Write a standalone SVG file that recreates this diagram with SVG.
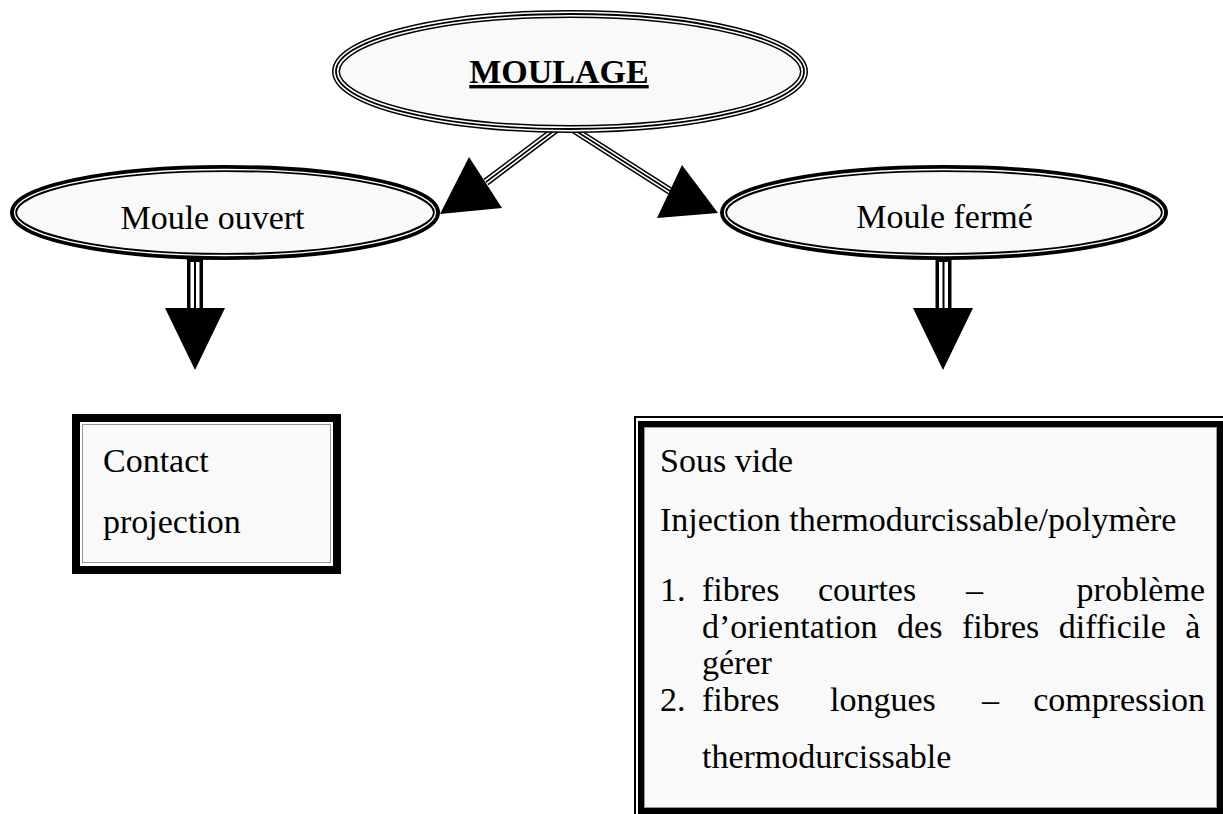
<svg xmlns="http://www.w3.org/2000/svg" width="1223" height="814" viewBox="0 0 1223 814">
<style>
text{font-family:'Liberation Serif','DejaVu Serif','Times New Roman',serif;font-size:34px;fill:#000}
.b{font-weight:bold}
.fill{fill:#f9f9f9}
.k{fill:none;stroke:#000}
.w{fill:none;stroke:#fff}
</style>
<rect x="0" y="0" width="1223" height="814" fill="#fff"/>
<g id="connectors">
  <g id="c-left">
    <line x1="563" y1="124" x2="486" y2="182" stroke="#000" stroke-width="8"/>
    <line x1="563" y1="124" x2="486" y2="182" stroke="#fff" stroke-width="5"/>
    <line x1="563" y1="124" x2="486" y2="182" stroke="#000" stroke-width="1.6"/>
    <polygon points="469,157 502,208 440,214" fill="#000"/>
  </g>
  <g id="c-right">
    <line x1="565" y1="124" x2="670" y2="191" stroke="#000" stroke-width="8"/>
    <line x1="565" y1="124" x2="670" y2="191" stroke="#fff" stroke-width="5"/>
    <line x1="565" y1="124" x2="670" y2="191" stroke="#000" stroke-width="1.6"/>
    <polygon points="682,165 657,218 718,213" fill="#000"/>
  </g>
  <g id="c-down-left">
    <line x1="195" y1="258" x2="195" y2="309" stroke="#000" stroke-width="16"/>
    <line x1="195" y1="262" x2="195" y2="309" stroke="#fff" stroke-width="9"/>
    <line x1="195" y1="262" x2="195" y2="309" stroke="#000" stroke-width="2"/>
    <polygon points="165,308 225,308 195,370" fill="#000"/>
  </g>
  <g id="c-down-right">
    <line x1="943.5" y1="258" x2="943.5" y2="309" stroke="#000" stroke-width="16"/>
    <line x1="943.5" y1="262" x2="943.5" y2="309" stroke="#fff" stroke-width="9"/>
    <line x1="943.5" y1="262" x2="943.5" y2="309" stroke="#000" stroke-width="2"/>
    <polygon points="913,308 973,308 943,370" fill="#000"/>
  </g>
</g>
<g id="moulage">
  <ellipse cx="570" cy="71.5" rx="234" ry="57.5" class="fill"/>
  <ellipse cx="570" cy="71.5" rx="234" ry="57.5" class="k" stroke-width="8"/>
  <ellipse cx="570" cy="71.5" rx="234" ry="57.5" class="w" stroke-width="5"/>
  <ellipse cx="570" cy="71.5" rx="234" ry="57.5" class="k" stroke-width="1.8"/>
  <text x="559" y="83" text-anchor="middle" class="b" text-decoration="underline">MOULAGE</text>
</g>
<g id="moule-ouvert">
  <ellipse cx="225" cy="212.5" rx="211.5" ry="44" class="fill"/>
  <ellipse cx="225" cy="212.5" rx="211.5" ry="44" class="k" stroke-width="7"/>
  <ellipse cx="225" cy="212.5" rx="210.5" ry="43" class="w" stroke-width="1.3"/>
  <text x="212.5" y="229" text-anchor="middle">Moule ouvert</text>
</g>
<g id="moule-ferme">
  <ellipse cx="944" cy="212.5" rx="220.5" ry="44" class="fill"/>
  <ellipse cx="944" cy="212.5" rx="220.5" ry="44" class="k" stroke-width="7"/>
  <ellipse cx="944" cy="212.5" rx="219.5" ry="43" class="w" stroke-width="1.3"/>
  <text x="944.5" y="228" text-anchor="middle">Moule fermé</text>
</g>
<g id="box-contact">
  <rect x="76" y="418" width="261" height="152" fill="#fff" stroke="#000" stroke-width="8"/>
  <rect x="82.5" y="424.5" width="248" height="138" class="fill" stroke="#999" stroke-width="1"/>
  <text x="103" y="472">Contact</text>
  <text x="103" y="533">projection</text>
</g>
<g id="box-ferme">
  <rect x="635" y="417" width="600" height="420" fill="#fff" stroke="#000" stroke-width="2"/>
  <rect x="641" y="424" width="579" height="387" fill="#fff" stroke="#000" stroke-width="6"/>
  <rect x="644.5" y="427.5" width="572" height="380" class="fill" stroke="#999" stroke-width="1"/>
  <text x="660" y="472">Sous vide</text>
  <text x="660" y="531">Injection thermodurcissable/polymère</text>
  <text y="601"><tspan x="660">1.</tspan><tspan x="702">fibres</tspan><tspan x="818">courtes</tspan><tspan x="966">–</tspan></text>
  <text x="1205" y="601" text-anchor="end">problème</text>
  <text x="702" y="638" word-spacing="11">d’orientation des fibres difficile à</text>
  <text x="702" y="674">gérer</text>
  <text y="711"><tspan x="660">2.</tspan><tspan x="702">fibres</tspan><tspan x="830">longues</tspan><tspan x="982">–</tspan></text>
  <text x="1205" y="711" text-anchor="end">compression</text>
  <text x="702" y="768">thermodurcissable</text>
</g>
</svg>
